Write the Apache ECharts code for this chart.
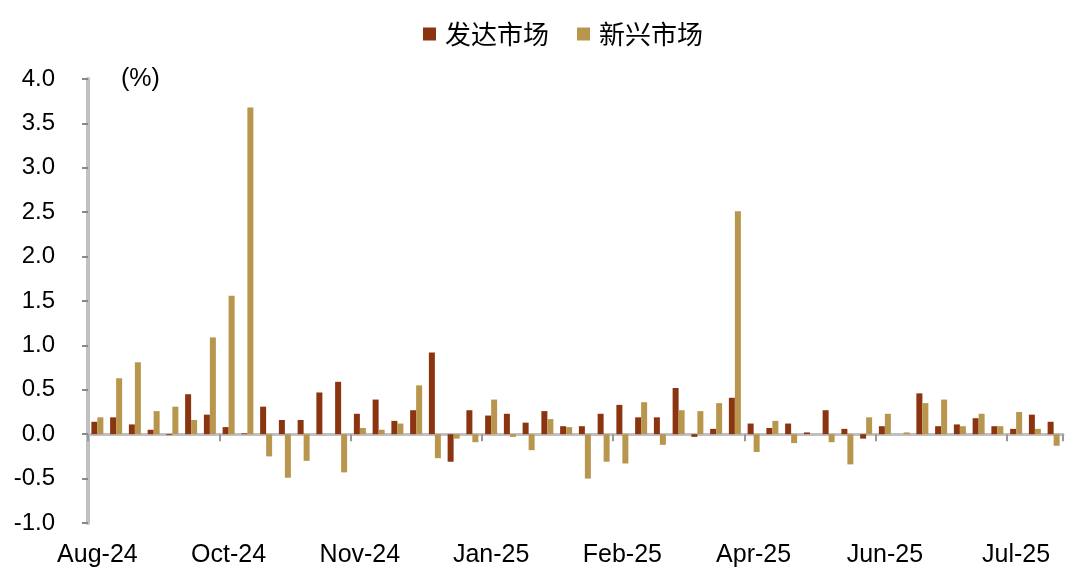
<!DOCTYPE html>
<html>
<head>
<meta charset="utf-8">
<script src="https://cdn.jsdelivr.net/npm/echarts@6/dist/echarts.min.js"></script>
<style>html,body{margin:0;padding:0;background:#fff;}#c{width:1071px;height:576px;}</style>
</head>
<body>
<div id="c"></div>
<script>
var weeks = ['2024-08-16','2024-08-23','2024-08-30','2024-09-06','2024-09-13','2024-09-20','2024-09-27',
  '2024-10-04','2024-10-11','2024-10-18','2024-10-25','2024-11-01','2024-11-08','2024-11-15',
  '2024-11-22','2024-11-29','2024-12-06','2024-12-13','2024-12-20','2024-12-27','2025-01-03',
  '2025-01-10','2025-01-17','2025-01-24','2025-01-31','2025-02-07','2025-02-14','2025-02-21',
  '2025-02-28','2025-03-07','2025-03-14','2025-03-21','2025-03-28','2025-04-04','2025-04-11',
  '2025-04-18','2025-04-25','2025-05-02','2025-05-09','2025-05-16','2025-05-23','2025-05-30',
  '2025-06-06','2025-06-13','2025-06-20','2025-06-27','2025-07-04','2025-07-11','2025-07-18',
  '2025-07-25','2025-08-01','2025-08-08'];
var developed = [0.14,0.19,0.11,0.05,-0.01,0.45,0.22,0.08,0.01,0.31,0.16,0.16,0.47,0.59,0.23,0.39,0.15,0.27,0.92,-0.31,
  0.27,0.21,0.23,0.13,0.26,0.09,0.09,0.23,0.33,0.19,0.19,0.52,-0.03,0.06,0.41,0.12,0.07,0.12,0.02,0.27,
  0.06,-0.05,0.09,0.00,0.46,0.09,0.11,0.18,0.09,0.06,0.22,0.14];
var emerging = [0.19,0.63,0.81,0.26,0.31,0.16,1.09,1.56,3.68,-0.25,-0.49,-0.30,0.00,-0.43,0.07,0.05,0.12,0.55,-0.27,-0.05,
  -0.09,0.39,-0.03,-0.18,0.17,0.08,-0.50,-0.31,-0.33,0.36,-0.12,0.27,0.26,0.35,2.51,-0.20,0.15,-0.10,0.00,-0.09,
  -0.34,0.19,0.23,0.02,0.35,0.39,0.09,0.23,0.09,0.25,0.06,-0.13];
var seriesNames = ['发达市场','新兴市场'];
var monthNames = ['Jan','Feb','Mar','Apr','May','Jun','Jul','Aug','Sep','Oct','Nov','Dec'];
function fmtWeek(s){ var p = s.split('-'); return monthNames[parseInt(p[1],10)-1] + '-' + p[0].slice(2); }

var chart = echarts.init(document.getElementById('c'), null, {renderer:'canvas'});
var latin = 'Liberation Sans, Arial, sans-serif';
chart.setOption({
  animation:false,
  backgroundColor:'#fff',
  legend:{
    top:16, left:418, itemWidth:13, itemHeight:13, itemGap:28, icon:'rect',
    textStyle:{fontFamily:'Noto Sans CJK SC', fontSize:26, color:'#000', padding:[0,0,0,4]},
    data:seriesNames
  },
  graphic:[{type:'text', left:121, top:67, style:{text:'(%)', font:'25px Liberation Sans', fill:'#000'}}],
  grid:{left:88, right:8, top:79, bottom:53},
  xAxis:[{
    type:'category', data:weeks, boundaryGap:true,
    axisLine:{onZero:true, lineStyle:{color:'#C0C0C0', width:3}},
    axisTick:{show:true, interval:6, length:7, lineStyle:{color:'#999', width:2}},
    axisLabel:{show:false}
  },{
    type:'category', data:weeks, boundaryGap:true, position:'bottom',
    axisLine:{show:false, onZero:false}, axisTick:{show:false},
    axisLabel:{interval:6, margin:20, fontFamily:latin, fontSize:25, color:'#000', formatter:fmtWeek}
  }],
  yAxis:{
    type:'value', min:-1, max:4, interval:0.5,
    axisLine:{show:true, lineStyle:{color:'#C0C0C0', width:4}},
    axisTick:{show:true, length:6, lineStyle:{color:'#888', width:2}},
    splitLine:{show:false},
    axisLabel:{margin:33, fontFamily:latin, fontSize:24, color:'#000', formatter:function(v){return v.toFixed(1);}}
  },
  series:[
    {name:seriesNames[0], type:'bar', data:developed, barWidth:6, barGap:'0%', itemStyle:{color:'#8B3410'}},
    {name:seriesNames[1], type:'bar', data:emerging, barWidth:6, barGap:'0%', itemStyle:{color:'#B8964E'}}
  ]
});
</script>
</body>
</html>
